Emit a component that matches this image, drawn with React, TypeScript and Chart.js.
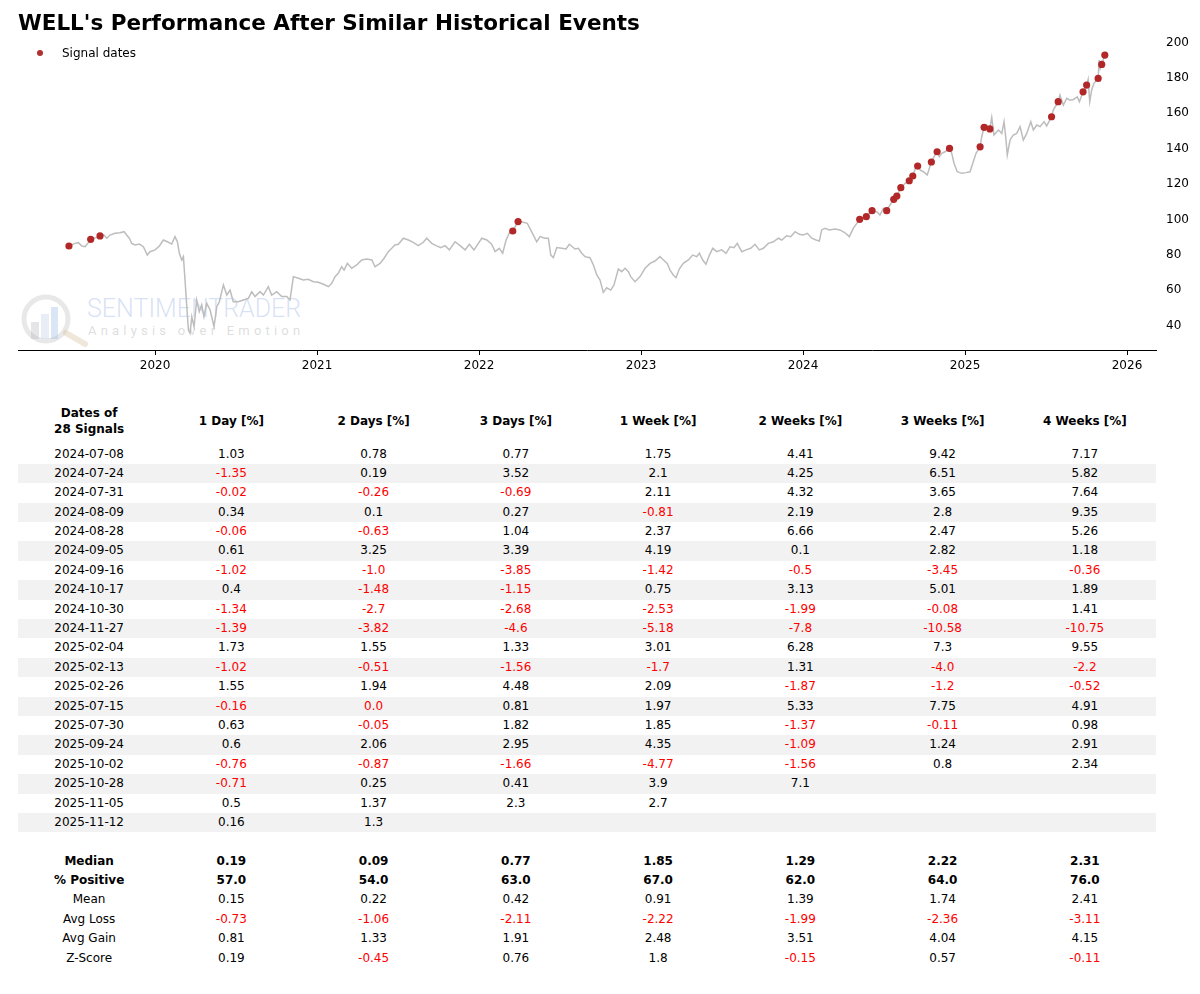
import React, { useEffect, useRef } from "react";
import { Chart, registerables } from "chart.js";

Chart.register(...registerables);

// ---- Price line (decimal year, price) ----
const priceX = [
  2019.468, 2019.506, 2019.527, 2019.548, 2019.568, 2019.588, 2019.603, 2019.64, 2019.66, 2019.685,
  2019.702, 2019.722, 2019.753, 2019.784, 2019.809, 2019.825, 2019.841, 2019.856, 2019.877, 2019.903,
  2019.928, 2019.952, 2019.969, 2020.0, 2020.027, 2020.051, 2020.076, 2020.103, 2020.123, 2020.138,
  2020.15, 2020.165, 2020.175, 2020.185, 2020.196, 2020.206, 2020.216, 2020.227, 2020.241, 2020.257,
  2020.273, 2020.288, 2020.302, 2020.319, 2020.34, 2020.364, 2020.381, 2020.397, 2020.422, 2020.443,
  2020.463, 2020.483, 2020.514, 2020.545, 2020.576, 2020.597, 2020.617, 2020.648, 2020.669, 2020.699,
  2020.72, 2020.751, 2020.782, 2020.813, 2020.833, 2020.854, 2020.885, 2020.915, 2020.946, 2020.977,
  2021.008, 2021.039, 2021.07, 2021.091, 2021.111, 2021.131, 2021.152, 2021.167, 2021.187, 2021.214,
  2021.245, 2021.276, 2021.307, 2021.338, 2021.358, 2021.389, 2021.414, 2021.44, 2021.461, 2021.481,
  2021.502, 2021.533, 2021.564, 2021.594, 2021.625, 2021.656, 2021.677, 2021.708, 2021.735, 2021.764,
  2021.79, 2021.817, 2021.852, 2021.883, 2021.914, 2021.94, 2021.969, 2021.996, 2022.017, 2022.048,
  2022.078, 2022.099, 2022.125, 2022.146, 2022.167, 2022.191, 2022.208, 2022.241, 2022.273, 2022.298,
  2022.319, 2022.34, 2022.356, 2022.377, 2022.407, 2022.428, 2022.443, 2022.459, 2022.48, 2022.511,
  2022.537, 2022.557, 2022.593, 2022.613, 2022.634, 2022.654, 2022.685, 2022.706, 2022.727, 2022.747,
  2022.767, 2022.788, 2022.813, 2022.833, 2022.86, 2022.881, 2022.901, 2022.922, 2022.936, 2022.963,
  2022.994, 2023.025, 2023.056, 2023.086, 2023.117, 2023.138, 2023.162, 2023.179, 2023.199, 2023.216,
  2023.236, 2023.261, 2023.292, 2023.319, 2023.344, 2023.36, 2023.381, 2023.401, 2023.422, 2023.443,
  2023.467, 2023.498, 2023.525, 2023.549, 2023.574, 2023.594, 2023.622, 2023.648, 2023.677, 2023.704,
  2023.73, 2023.755, 2023.786, 2023.817, 2023.848, 2023.869, 2023.899, 2023.924, 2023.951, 2023.977,
  2024.002, 2024.027, 2024.054, 2024.08, 2024.101, 2024.115, 2024.136, 2024.162, 2024.198, 2024.228,
  2024.259, 2024.286, 2024.31, 2024.35, 2024.391, 2024.426, 2024.455, 2024.475, 2024.496, 2024.516,
  2024.537, 2024.56, 2024.579, 2024.604, 2024.63, 2024.656, 2024.678, 2024.691, 2024.708, 2024.722,
  2024.743, 2024.767, 2024.792, 2024.809, 2024.828, 2024.841, 2024.856, 2024.877, 2024.904, 2024.918,
  2024.932, 2024.952, 2024.98, 2025.006, 2025.031, 2025.048, 2025.068, 2025.093, 2025.103, 2025.118,
  2025.134, 2025.153, 2025.165, 2025.179, 2025.206, 2025.227, 2025.241, 2025.253, 2025.261, 2025.278,
  2025.298, 2025.319, 2025.34, 2025.36, 2025.381, 2025.406, 2025.422, 2025.443, 2025.463, 2025.488,
  2025.504, 2025.534, 2025.545, 2025.575, 2025.586, 2025.607, 2025.628, 2025.648, 2025.669, 2025.693,
  2025.706, 2025.729, 2025.751, 2025.76, 2025.77, 2025.782, 2025.796, 2025.822, 2025.828, 2025.835,
  2025.844, 2025.863, 2025.87,
];
const priceY = [
  84.1, 85.6, 86.0, 84.1, 83.7, 86.0, 87.9, 89.0, 89.8, 90.3,
  88.5, 90.3, 91.3, 91.6, 92.2, 90.3, 88.5, 85.6, 84.7, 85.2,
  83.7, 79.0, 80.9, 81.9, 84.1, 87.5, 86.5, 85.2, 89.4, 86.5,
  80.0, 76.2, 78.1, 64.9, 49.8, 36.6, 34.8, 44.1, 38.5, 53.6,
  47.0, 50.8, 44.1, 51.7, 47.9, 38.5, 49.8, 52.6, 62.1, 56.4,
  59.2, 52.6, 52.6, 53.6, 54.5, 58.3, 55.5, 58.3, 56.4, 61.1,
  56.4, 58.3, 55.5, 55.5, 53.6, 66.8, 65.9, 64.9, 65.3, 63.9,
  63.6, 62.5, 61.1, 63.0, 66.8, 68.7, 72.4, 70.5, 74.3, 71.5,
  73.4, 76.2, 76.8, 76.2, 72.4, 74.3, 77.2, 80.9, 82.8, 84.7,
  85.1, 88.5, 87.5, 86.2, 84.3, 86.2, 88.5, 85.6, 84.3, 83.2,
  84.3, 81.9, 86.5, 84.3, 81.9, 85.1, 81.9, 85.6, 88.5, 87.5,
  85.1, 80.9, 82.8, 80.0, 87.5, 92.2, 92.6, 97.9, 97.5, 96.9,
  93.2, 89.4, 86.5, 89.4, 88.5, 88.5, 79.0, 77.5, 83.2, 82.8,
  82.4, 85.1, 82.4, 82.8, 80.0, 78.1, 77.5, 73.4, 67.7, 64.9,
  57.9, 60.5, 59.2, 62.1, 71.1, 69.6, 71.5, 69.6, 66.8, 63.9,
  66.8, 71.5, 74.3, 75.6, 78.1, 76.2, 74.3, 70.5, 67.7, 66.2,
  71.1, 74.3, 76.2, 79.0, 78.1, 80.0, 76.2, 73.8, 79.0, 82.8,
  80.9, 81.9, 80.0, 83.7, 83.2, 85.6, 80.9, 81.9, 82.8, 85.1,
  81.9, 82.8, 85.6, 86.5, 88.5, 87.5, 89.9, 89.4, 92.2, 90.7,
  90.3, 91.3, 88.5, 87.5, 86.9, 93.2, 94.1, 93.2, 93.7, 93.2,
  91.6, 89.4, 94.1, 99.2, 100.7, 104.1, 103.5, 101.6, 105.4, 104.1,
  107.3, 110.5, 112.4, 117.1, 119.6, 121.0, 123.7, 127.5, 129.3, 127.1,
  126.1, 124.3, 131.6, 134.6, 137.4, 134.6, 136.5, 137.4, 139.3, 136.5,
  130.9, 126.1, 125.2, 125.6, 126.1, 130.9, 136.5, 140.2, 145.9, 151.2,
  152.5, 150.3, 156.9, 146.9, 149.7, 147.8, 154.4, 144.0, 135.6, 144.0,
  146.9, 147.8, 151.6, 144.0, 147.8, 154.4, 149.7, 152.5, 151.6, 154.4,
  152.0, 157.2, 161.0, 165.7, 169.5, 163.8, 167.6, 166.6, 167.0, 168.5,
  165.7, 171.3, 175.1, 178.3, 165.7, 172.3, 176.1, 178.9, 189.3, 184.6,
  186.8, 192.1, 194.0,
];

// ---- Signal dates and price at each signal ----
const signalDates = [
  "2019-06-21", "2019-08-09", "2019-08-30", "2022-03-18", "2022-03-30",
  "2024-05-08", "2024-05-23", "2024-06-05",
  "2024-07-08", "2024-07-24", "2024-07-31", "2024-08-09", "2024-08-28",
  "2024-09-05", "2024-09-16", "2024-10-17", "2024-10-30", "2024-11-27",
  "2025-02-04", "2025-02-13", "2025-02-26", "2025-07-15", "2025-07-30",
  "2025-09-24", "2025-10-02", "2025-10-28", "2025-11-05", "2025-11-12",
];
const signalPrices = [
  84.1, 87.9, 89.8, 92.6, 97.9,
  99.2, 100.7, 104.1,
  104.1, 110.5, 112.4, 117.1, 121.0,
  123.7, 129.3, 131.6, 137.4, 139.3,
  140.2, 151.2, 150.3, 157.2, 165.7,
  171.3, 175.1, 178.9, 186.8, 192.1,
];

const yTicks = [40, 60, 80, 100, 120, 140, 160, 180, 200];
const xTicks = [2020, 2021, 2022, 2023, 2024, 2025, 2026];

// ---- Table ----
const columnHeaders = ["1 Day [%]", "2 Days [%]", "3 Days [%]", "1 Week [%]", "2 Weeks [%]", "3 Weeks [%]", "4 Weeks [%]"];
const tableDates = [
  "2024-07-08", "2024-07-24", "2024-07-31", "2024-08-09", "2024-08-28",
  "2024-09-05", "2024-09-16", "2024-10-17", "2024-10-30", "2024-11-27",
  "2025-02-04", "2025-02-13", "2025-02-26", "2025-07-15", "2025-07-30",
  "2025-09-24", "2025-10-02", "2025-10-28", "2025-11-05", "2025-11-12",
];
const day1 = [1.03, -1.35, -0.02, 0.34, -0.06, 0.61, -1.02, 0.4, -1.34, -1.39, 1.73, -1.02, 1.55, -0.16, 0.63, 0.6, -0.76, -0.71, 0.5, 0.16];
const day2 = [0.78, 0.19, -0.26, 0.1, -0.63, 3.25, -1.0, -1.48, -2.7, -3.82, 1.55, -0.51, 1.94, -0, -0.05, 2.06, -0.87, 0.25, 1.37, 1.3];
const day3 = [0.77, 3.52, -0.69, 0.27, 1.04, 3.39, -3.85, -1.15, -2.68, -4.6, 1.33, -1.56, 4.48, 0.81, 1.82, 2.95, -1.66, 0.41, 2.3, null];
const week1 = [1.75, 2.1, 2.11, -0.81, 2.37, 4.19, -1.42, 0.75, -2.53, -5.18, 3.01, -1.7, 2.09, 1.97, 1.85, 4.35, -4.77, 3.9, 2.7, null];
const week2 = [4.41, 4.25, 4.32, 2.19, 6.66, 0.1, -0.5, 3.13, -1.99, -7.8, 6.28, 1.31, -1.87, 5.33, -1.37, -1.09, -1.56, 7.1, null, null];
const week3 = [9.42, 6.51, 3.65, 2.8, 2.47, 2.82, -3.45, 5.01, -0.08, -10.58, 7.3, -4.0, -1.2, 7.75, -0.11, 1.24, 0.8, null, null, null];
const week4 = [7.17, 5.82, 7.64, 9.35, 5.26, 1.18, -0.36, 1.89, 1.41, -10.75, 9.55, -2.2, -0.52, 4.91, 0.98, 2.91, 2.34, null, null, null];

const summaryLabels = ["Median", "% Positive", "Mean", "Avg Loss", "Avg Gain", "Z-Score"];
const median = [0.19, 0.09, 0.77, 1.85, 1.29, 2.22, 2.31];
const pctPositive = [57.0, 54.0, 63.0, 67.0, 62.0, 64.0, 76.0];
const mean = [0.15, 0.22, 0.42, 0.91, 1.39, 1.74, 2.41];
const avgLoss = [-0.73, -1.06, -2.11, -2.22, -1.99, -2.36, -3.11];
const avgGain = [0.81, 1.33, 1.91, 2.48, 3.51, 4.04, 4.15];
const zScore = [0.19, -0.45, 0.76, 1.8, -0.15, 0.57, -0.11];

const FONT = "'DejaVu Sans', 'Liberation Sans', sans-serif";

function toDecimalYear(s: string): number {
  const [y, m, d] = s.split("-").map(Number);
  const start = Date.UTC(y, 0, 1);
  const end = Date.UTC(y + 1, 0, 1);
  return y + (Date.UTC(y, m - 1, d) - start) / (end - start);
}

function fmt(v: number | null): string {
  if (v === null || v === undefined) return "";
  return Number.isInteger(v) ? v.toFixed(1) : String(v);
}
function isNeg(v: number | null): boolean {
  if (v === null || v === undefined) return false;
  return v < 0 || Object.is(v, -0);
}

const ROW_H = 19.4;

function ChartCanvas() {
  const ref = useRef<HTMLCanvasElement | null>(null);
  useEffect(() => {
    if (!ref.current) return;
    const lineData = priceX.map((x, i) => ({ x, y: priceY[i] }));
    const dotData = signalDates.map((d, i) => ({ x: toDecimalYear(d), y: signalPrices[i] }));
    const chart = new Chart(ref.current, {
      type: "scatter",
      data: {
        datasets: [
          {
            label: "Signal dates",
            data: dotData,
            pointRadius: 3.6,
            pointHoverRadius: 3.6,
            backgroundColor: "#b22828",
            borderColor: "#b22828",
            borderWidth: 0,
            order: 0,
          },
          {
            label: "Price",
            data: lineData,
            showLine: true,
            pointRadius: 0,
            borderColor: "#bdbdbd",
            borderWidth: 1.5,
            tension: 0,
            order: 1,
          },
        ],
      },
      options: {
        animation: false,
        responsive: false,
        events: [],
        layout: { padding: { top: 37, left: 18, right: 0, bottom: 0 } },
        plugins: {
          legend: { display: false },
          tooltip: { enabled: false },
          title: { display: false },
        },
        scales: {
          x: {
            type: "linear",
            min: 2019.154,
            max: 2026.179,
            afterBuildTicks: (scale: any) => {
              scale.ticks = xTicks.map((v) => ({ value: v }));
            },
            afterFit: (scale: any) => {
              scale.height = 35;
            },
            ticks: {
              color: "#000",
              font: { family: FONT, size: 12 },
              padding: 4,
              maxRotation: 0,
              autoSkip: false,
              callback: (v: any) => String(Math.round(Number(v))),
            },
            grid: {
              display: true,
              drawOnChartArea: false,
              drawTicks: true,
              tickLength: 5,
              tickColor: "#000",
              tickWidth: 1,
            },
            border: { display: true, color: "#000", width: 1 },
          },
          y: {
            type: "linear",
            position: "right",
            min: 25.3,
            max: 202.3,
            afterBuildTicks: (scale: any) => {
              scale.ticks = yTicks.map((v) => ({ value: v }));
            },
            afterFit: (scale: any) => {
              scale.width = 44;
            },
            ticks: {
              color: "#000",
              font: { family: FONT, size: 12 },
              padding: 10,
              labelOffset: 1.5,
              autoSkip: false,
              callback: (v: any) => String(v),
            },
            grid: { display: false, drawTicks: false },
            border: { display: false },
          },
        },
      },
    } as any);
    return () => chart.destroy();
  }, []);
  return (
    <canvas
      ref={ref}
      width={1200}
      height={385}
      style={{ position: "absolute", left: 0, top: 0, width: 1200, height: 385 }}
    />
  );
}

function Cell({ text, color, bold }: { text: React.ReactNode; color?: string; bold?: boolean }) {
  return (
    <div
      style={{
        textAlign: "center",
        color: color || "#000",
        fontWeight: bold ? "bold" : "normal",
        whiteSpace: "nowrap",
      }}
    >
      {text}
    </div>
  );
}

function Table() {
  const cols = [day1, day2, day3, week1, week2, week3, week4];
  const summaries = [median, pctPositive, mean, avgLoss, avgGain, zScore];
  const grid: React.CSSProperties = {
    display: "grid",
    gridTemplateColumns: "repeat(8, 1fr)",
    height: ROW_H,
    lineHeight: ROW_H + "px",
    alignItems: "center",
  };
  return (
    <div
      style={{
        position: "absolute",
        left: 18,
        top: 401,
        width: 1138,
        fontFamily: FONT,
        fontSize: 12,
        color: "#000",
      }}
    >
      <div style={{ ...grid, height: 40, lineHeight: "16px" }}>
        <Cell
          bold
          text={
            <span>
              Dates of
              <br />
              {signalDates.length} Signals
            </span>
          }
        />
        {columnHeaders.map((h) => (
          <Cell key={h} text={h} bold />
        ))}
      </div>
      <div style={{ position: "absolute", top: 43.5, left: 0, width: 1138 }}>
        {tableDates.map((d, r) => (
          <div key={d} style={{ ...grid, background: r % 2 === 1 ? "#f2f2f2" : "transparent" }}>
            <Cell text={d} />
            {cols.map((c, ci) => (
              <Cell key={ci} text={fmt(c[r])} color={isNeg(c[r]) ? "#ff0000" : "#000"} />
            ))}
          </div>
        ))}
        <div style={grid} />
        {summaryLabels.map((lab, si) => (
          <div key={lab} style={grid}>
            <Cell text={lab} bold={si < 2} />
            {summaries[si].map((v, ci) => (
              <Cell key={ci} text={fmt(v)} bold={si < 2} color={isNeg(v) ? "#ff0000" : "#000"} />
            ))}
          </div>
        ))}
      </div>
    </div>
  );
}

function Watermark() {
  return (
    <>
      <svg
        width={120}
        height={70}
        viewBox="0 280 120 70"
        style={{ position: "absolute", left: 0, top: 280, pointerEvents: "none" }}
      >
        <circle cx={46} cy={319} r={22} fill="none" stroke="rgba(190,190,190,0.35)" strokeWidth={5} />
        <rect x={31} y={322} width={8} height={17} fill="rgba(170,170,180,0.3)" />
        <rect x={41} y={314} width={8} height={25} fill="rgba(200,210,230,0.4)" />
        <rect x={51} y={307} width={7} height={32} fill="rgba(150,180,230,0.35)" />
        <line x1={66} y1={333} x2={85} y2={344} stroke="rgba(215,195,160,0.4)" strokeWidth={6} strokeLinecap="round" />
      </svg>
      <div
        style={{
          position: "absolute",
          left: 87,
          top: 294,
          fontFamily: "Roboto, 'Noto Sans', sans-serif",
          fontWeight: 300,
          fontSize: 25,
          lineHeight: "30px",
          color: "rgba(150,175,230,0.38)",
          whiteSpace: "nowrap",
        }}
      >
        SENTIMENTRADER
      </div>
      <div
        style={{
          position: "absolute",
          left: 88,
          top: 323,
          fontFamily: "Roboto, 'Noto Sans', sans-serif",
          fontSize: 13,
          lineHeight: "16px",
          letterSpacing: "4.2px",
          color: "rgba(180,180,180,0.45)",
          whiteSpace: "nowrap",
        }}
      >
        Analysis over Emotion
      </div>
    </>
  );
}

export default function App() {
  return (
    <div
      style={{
        position: "absolute",
        left: 0,
        top: 0,
        width: 1200,
        height: 994,
        background: "#fff",
        fontFamily: FONT,
        overflow: "hidden",
      }}
    >
      <Watermark />
      <ChartCanvas />
      <div
        style={{
          position: "absolute",
          left: 18,
          top: 10,
          fontFamily: FONT,
          fontWeight: "bold",
          fontSize: 21.5,
          lineHeight: "26px",
          color: "#000",
          whiteSpace: "nowrap",
        }}
      >
        WELL's Performance After Similar Historical Events
      </div>
      <div style={{ position: "absolute", left: 37, top: 50, width: 6, height: 6, borderRadius: "50%", background: "#b03030" }} />
      <div
        style={{
          position: "absolute",
          left: 62,
          top: 46,
          fontFamily: FONT,
          fontSize: 12,
          lineHeight: "14px",
          color: "#000",
          whiteSpace: "nowrap",
        }}
      >
        Signal dates
      </div>
      <Table />
    </div>
  );
}
